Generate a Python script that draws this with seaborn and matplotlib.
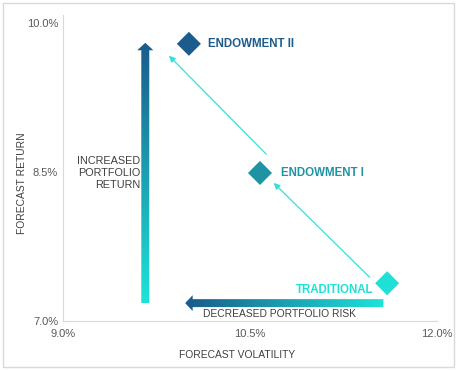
import numpy as np
import pandas as pd
import seaborn as sns
import matplotlib.pyplot as plt
from matplotlib.patches import Polygon, Rectangle

# portfolio data
portfolios = ['TRADITIONAL', 'ENDOWMENT I', 'ENDOWMENT II']
volatility = [11.60, 10.58, 10.01]
forecast_return = [7.38, 8.49, 9.79]
colors = ['#1fe0d6', '#1e93a4', '#1b5c8c']

x_ticks = [9.0, 10.5, 12.0]
y_ticks = [7.0, 8.5, 10.0]

df = pd.DataFrame({'portfolio': portfolios, 'vol': volatility, 'ret': forecast_return})

sns.set_style('white')
plt.rcParams['font.family'] = ['Liberation Sans', 'DejaVu Sans']

fig = plt.figure(figsize=(4.57, 3.70), dpi=100)
ax = fig.add_axes([63 / 457, 1 - 321 / 370, 374 / 457, 306 / 370])

sns.scatterplot(data=df, x='vol', y='ret', hue='portfolio', palette=dict(zip(portfolios, colors)),
                marker='D', s=150, edgecolor='none', legend=False, ax=ax, zorder=5)

ax.set_xlim(9.0, 12.0)
ax.set_ylim(7.0, 10.08)
ax.set_xticks(x_ticks)
ax.set_yticks(y_ticks)
ax.set_xticklabels([f'{v:.1f}%' for v in x_ticks])
ax.set_yticklabels([f'{v:.1f}%' for v in y_ticks])
ax.tick_params(length=0, labelsize=8, labelcolor='#595959')
ax.tick_params(axis='x', pad=6)
for side in ['top', 'right']:
    ax.spines[side].set_visible(False)
for side in ['left', 'bottom']:
    ax.spines[side].set_color('#d9d9d9')
    ax.spines[side].set_linewidth(0.8)
ax.set_xlabel('FORECAST VOLATILITY', fontsize=7.4, color='#404040')
ax.set_ylabel('FORECAST RETURN', fontsize=7.4, color='#404040')
ax.xaxis.set_label_coords(0.466, -0.095)
ax.yaxis.set_label_coords(-0.095, 0.45)

# point labels
lab_kw = dict(fontsize=8.3, fontweight='bold', va='center')
ax.text(10.16, 9.79, 'ENDOWMENT II', color=colors[2], ha='left', **lab_kw)
ax.text(10.75, 8.49, 'ENDOWMENT I', color=colors[1], ha='left', **lab_kw)
ax.text(11.49, 7.31, 'TRADITIONAL', color=colors[0], ha='right', **lab_kw)

# thin arrows between portfolios
arrow_kw = dict(arrowstyle='-|>', color='#30e3da', lw=0.9, mutation_scale=9, shrinkA=0, shrinkB=0)
ax.annotate('', xy=(10.69, 8.39), xytext=(11.46, 7.44), arrowprops=arrow_kw)
ax.annotate('', xy=(9.85, 9.67), xytext=(10.63, 8.68), arrowprops=arrow_kw)

dark = np.array([0x1a, 0x5a, 0x8a]) / 255
light = np.array([0x1e, 0xe3, 0xd8]) / 255
t = np.linspace(0, 1, 256)
grad = (dark[None, :] * (1 - t[:, None]) + light[None, :] * t[:, None])

# vertical gradient arrow (return), dark at the top
vx, vy0, vy1 = 9.66, 7.18, 9.80
sw, hw, hl = 0.032, 0.065, 0.075
vpoly = Polygon([(vx - sw, vy0), (vx + sw, vy0), (vx + sw, vy1 - hl), (vx + hw, vy1 - hl),
                 (vx, vy1), (vx - hw, vy1 - hl), (vx - sw, vy1 - hl)], closed=True,
                transform=ax.transData, facecolor='none', edgecolor='none')
ax.add_patch(vpoly)
im = ax.imshow(grad[:, None, :], extent=[vx - hw, vx + hw, vy0, vy1], aspect='auto',
               origin='upper', zorder=3)
im.set_clip_path(vpoly)

# horizontal gradient arrow (risk), dark at the left
hy, hx0, hx1 = 7.18, 11.57, 9.98
sh, hh, hlx = 0.04, 0.08, 0.06
hpoly = Polygon([(hx0, hy - sh), (hx0, hy + sh), (hx1 + hlx, hy + sh), (hx1 + hlx, hy + hh),
                 (hx1, hy), (hx1 + hlx, hy - hh), (hx1 + hlx, hy - sh)], closed=True,
                transform=ax.transData, facecolor='none', edgecolor='none')
ax.add_patch(hpoly)
im2 = ax.imshow(grad[None, :, :], extent=[hx1, hx0, hy - hh, hy + hh], aspect='auto',
                origin='upper', zorder=3)
im2.set_clip_path(hpoly)

ax.text(9.62, 8.49, 'INCREASED\nPORTFOLIO\nRETURN', fontsize=7.8, color='#404040',
        ha='right', va='center', linespacing=1.25)
ax.text(10.74, 7.07, 'DECREASED PORTFOLIO RISK', fontsize=7.4, color='#404040',
        ha='center', va='center')

ax.set_xlim(9.0, 12.0)
ax.set_ylim(7.0, 10.08)

fig.add_artist(Rectangle((0.007, 0.008), 0.986, 0.984, transform=fig.transFigure,
                         fill=False, edgecolor='#d9d9d9', linewidth=1))

fig.savefig('out.png', dpi=100)
